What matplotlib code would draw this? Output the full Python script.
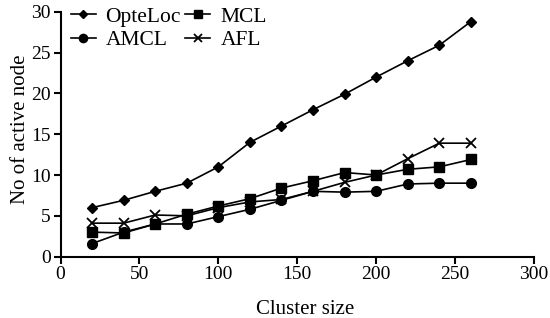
import matplotlib
matplotlib.use("Agg")
import matplotlib.pyplot as plt

plt.rcParams['font.family'] = ['Liberation Serif', 'DejaVu Serif']

cluster = [20, 40, 60, 80, 100, 120, 140, 160, 180, 200, 220, 240, 260]
opteloc = [6.0, 6.9, 8.0, 9.0, 11.0, 14.0, 16.0, 18.0, 19.9, 22.0, 24.0, 25.9, 28.8]
mcl     = [3.0, 2.9, 4.0, 5.2, 6.2, 7.1, 8.4, 9.3, 10.3, 10.0, 10.7, 11.0, 11.9]
amcl    = [1.6, 3.0, 4.0, 4.0, 4.9, 5.8, 6.9, 8.0, 7.9, 8.0, 8.9, 9.0, 9.0]
afl     = [4.1, 4.1, 5.1, 5.0, 6.0, 6.7, 7.0, 8.0, 9.1, 10.0, 12.0, 13.9, 13.9]

fig = plt.figure(figsize=(5.5, 3.18), dpi=100)
ax = fig.add_axes([0.110, 0.193, 0.861, 0.770])

lw = 1.2
ax.plot(cluster, opteloc, color='black', lw=lw, marker='D', ms=5, label='OpteLoc')
ax.plot(cluster, mcl, color='black', lw=lw, marker='s', ms=7, label='MCL')
ax.plot(cluster, amcl, color='black', lw=lw, marker='o', ms=7, label='AMCL')
ax.plot(cluster, afl, color='black', lw=lw, marker='x', ms=7, mew=1.3, label='AFL')

ax.set_xlim(0, 300)
ax.set_ylim(0, 30)
ax.set_xticks(range(0, 301, 50))
ax.set_yticks(range(0, 31, 5))
for s in ['top', 'right']:
    ax.spines[s].set_visible(False)
for s in ['left', 'bottom']:
    ax.spines[s].set_linewidth(1.5)
ax.tick_params(direction='out', length=5, width=1.5, labelsize=14, pad=2)
ax.set_xlabel('Cluster size', fontsize=15)
ax.xaxis.set_label_coords(0.516, -0.176)
ax.set_ylabel('No of active node', fontsize=15)
ax.yaxis.set_label_coords(-0.065, 0.52)

handles, labels = ax.get_legend_handles_labels()
order = [0, 2, 1, 3]
ax.legend([handles[i] for i in order], [labels[i] for i in order], ncol=2,
          loc='upper left', bbox_to_anchor=(0.003, 1.055), borderaxespad=0.0,
          frameon=False, fontsize=15.5, handlelength=1.16, handletextpad=0.47,
          columnspacing=0.2, labelspacing=0.15, markerscale=0.85)

fig.savefig('out.png', dpi=100)
